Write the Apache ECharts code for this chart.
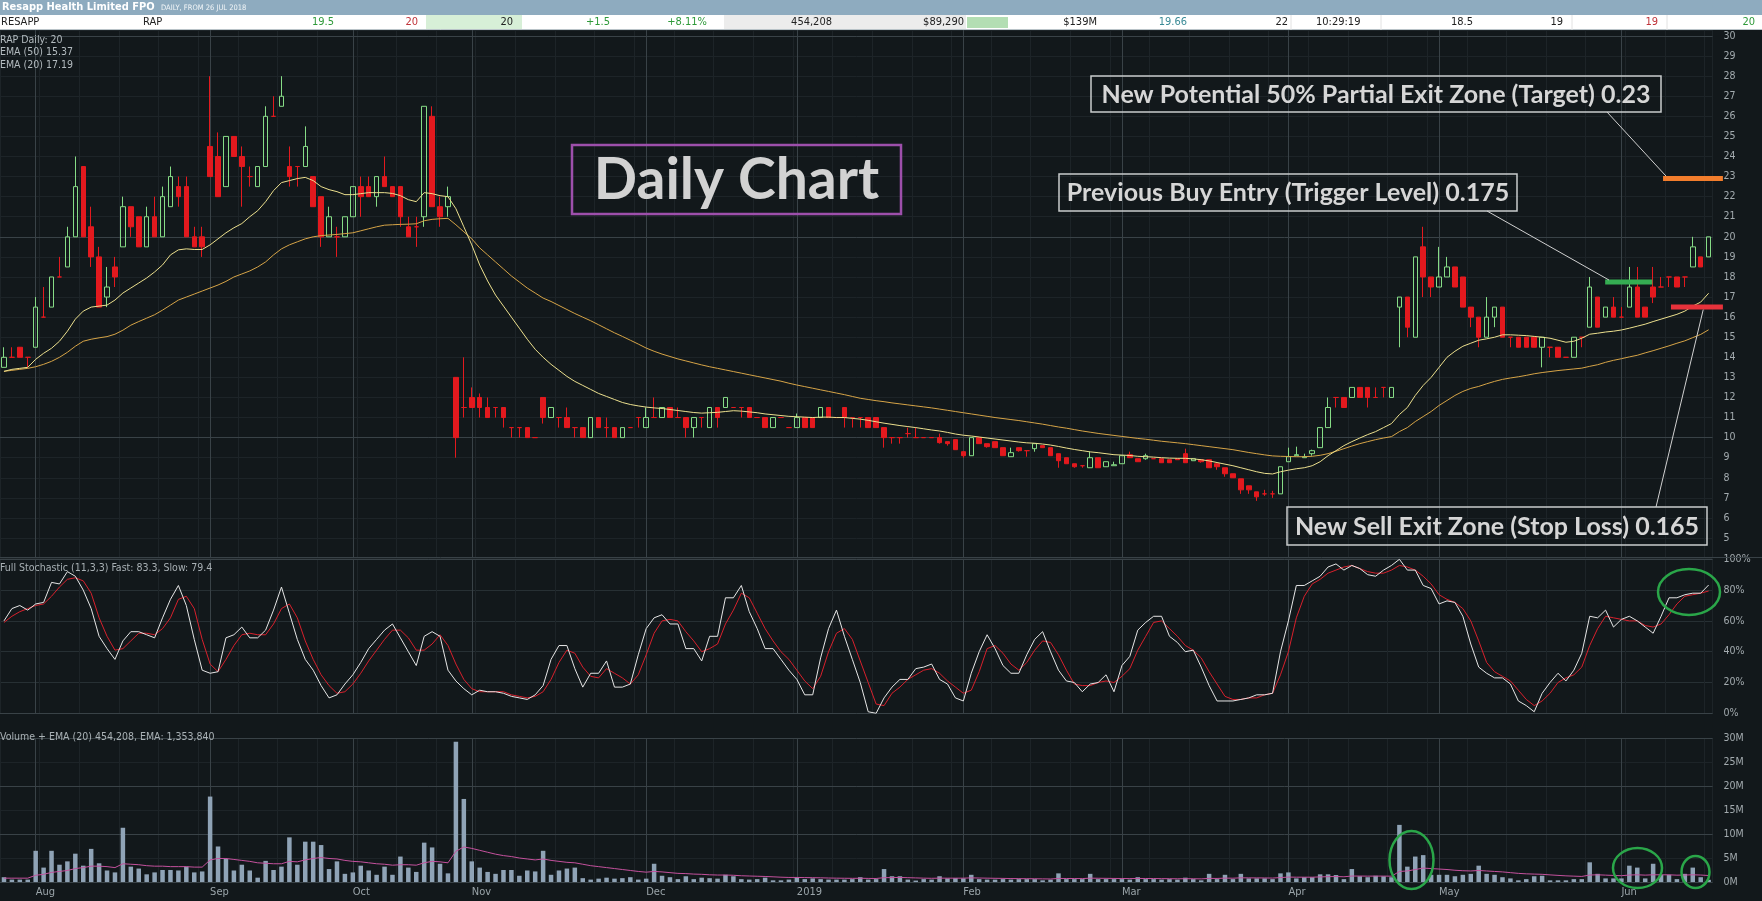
<!DOCTYPE html>
<html><head><meta charset="utf-8">
<script src="https://cdn.jsdelivr.net/npm/echarts@6/dist/echarts.min.js"></script>
<style>html,body{margin:0;padding:0;background:#12181b;overflow:hidden}#c{width:1762px;height:901px}</style>
</head><body><div id="c"></div>
<script>
// ---------- DATA ----------
// candles: [open, high, low, close] in cents
const candles = [
[13.5,14.5,13.5,14],[14,14.5,14,14],[14.5,14.5,14,14],[14,14,13.5,14],[14.5,17,14.5,16.5],[16,17.5,16,16],[16.5,18,16.5,18],[18,19,18,18],[18.5,20.5,18.5,20],[20,24,20,22.5],
[23.5,23.5,20,20],[20.5,21.5,18.5,19],[19,19.5,16.5,16.5],[17,18.5,16.5,17.5],[18.5,19,17.5,18],[19.5,22,19.5,21.5],[21.5,21.5,20,20.5],[21,21,19.5,19.5],[19.5,21.5,19.5,21],[21,22,20,20],
[20,22.5,20,22],[21.5,23.5,21.5,23],[22.5,23,21.5,22],[22.5,23,20,20],[20,20.5,19.5,19.5],[20,20.5,19,19.5],[24.5,28,23,23],[24,25.2,22,22],[22.5,25,22.5,25],[25,25,24,24],
[24,24.5,21.5,23.5],[23,23.5,22.5,23],[22.5,23.5,22.5,23.5],[23.5,26.5,23.5,26],[26,27,26,26],[26.5,28,26.5,27],[23.5,24.5,22.5,23],[23.5,23.5,22.5,23.5],[23.5,25.5,23.5,24.5],[23,23,21.5,21.5],
[22,22,19.5,20],[20,21.5,20,21],[20,20.5,19,20],[20,21,20,21],[21,22.5,21,22.5],[22.5,23,21,22],[22.5,23,22,22],[22,23,21.5,23],[23,24,22.5,22.5],[22.5,22.5,22,22],
[22.5,22.5,20.5,21],[20.5,21,20,20],[20.5,21,19.5,20.5],[21,26.5,20.5,26.5],[26,26.5,21.5,21.5],[21.5,22,20.5,21],[21.5,22.5,21,22],[13,13,9,10],[11.5,14,11,11.5],[12,12.5,11.5,11.5],
[12,12.2,11,11.5],[11.5,12,11,11],[11.5,11.5,11,11.5],[11.5,11.5,10.5,11],[10.5,10.5,10,10.5],[10.5,10.5,10,10.5],[10.5,10.5,10,10],[10,10,10,10],[12,12,10.7,11],[11,11.5,11,11.5],
[11,11,10.5,11],[11,11.5,10.5,10.5],[10.5,10.5,10,10.5],[10.5,10.5,10,10],[10,11,10,11],[11,11,10.5,10.5],[10.5,11,10,10.5],[10.5,10.5,10,10],[10,10.5,10,10.5],[10.5,10.5,10.5,10.5],
[11,11,10.5,11],[10.5,11.5,10.5,11],[11,12,11,11],[11,11.5,11,11.5],[11.5,11.5,11,11],[11,11.5,11,11],[11,11,10,10.5],[10.5,11,10,11],[11,11,10.5,11],[10.5,11.5,10.5,11.5],
[11.5,11.5,10.5,11],[11.5,12,11.5,12],[11.5,11.5,11.5,11.5],[11.5,11.5,11,11.5],[11.5,11.5,11,11],[11,11,11,11],[11,11,10.5,10.5],[10.5,11,10.5,11],[11,11,11,11],[10.5,10.5,10.5,10.5],
[10.5,11.2,10.5,11],[11,11,10.5,10.5],[11,11,10.5,10.5],[11,11.5,11,11.5],[11.5,11.5,11,11],[11,11,11,11],[11.5,11.5,10.5,11],[11,11,10.5,11],[11,11,10.5,11],[11,11,10.5,10.5],
[11,11,10.5,10.5],[10.5,10.5,9.5,10],[10,10,9.7,10],[10,10,9.7,10],[10.2,10.5,10,10.2],[10,10.5,10,10],[10,10,10,10],[10,10,10,10],[10,10.2,9.7,9.75],[9.8,9.8,9.6,9.7],
[9.9,9.9,9.4,9.4],[9.3,9.3,9,9.1],[9.1,10,9.1,10],[10,10,9.7,9.7],[9.7,9.7,9.5,9.55],[9.8,9.8,9.5,9.5],[9.5,9.5,9.1,9.1],[9.05,9.5,9.05,9.25],[9.5,9.5,9.3,9.35],[9.35,9.35,9.05,9.35],
[9.45,9.7,9.3,9.7],[9.6,9.6,9.5,9.5],[9.5,9.5,9.1,9.1],[9.2,9.2,8.5,8.85],[9,9,8.7,8.7],[8.7,8.7,8.5,8.55],[8.6,8.6,8.5,8.6],[8.5,9.3,8.5,9],[9,9,8.5,8.5],[8.55,8.8,8.55,8.8],
[8.6,8.8,8.6,8.65],[8.7,9.1,8.7,9.1],[9.15,9.3,9,9],[8.95,8.95,8.8,8.8],[8.95,9.2,8.9,9.1],[8.95,8.95,8.95,8.95],[8.95,8.95,8.75,8.75],[8.9,8.9,8.75,8.75],[8.95,8.95,8.9,8.9],[9.2,9.45,8.75,8.75],
[8.85,8.95,8.85,8.95],[8.9,8.9,8.75,8.8],[8.9,8.9,8.5,8.5],[8.7,8.7,8.4,8.55],[8.5,8.5,8.05,8.2],[8.2,8.2,8,8],[7.95,7.95,7.2,7.4],[7.6,7.6,7.2,7.4],[7.3,7.3,6.85,7.05],[7.2,7.4,7.1,7.2],
[7.2,7.35,7,7.2],[7.2,8.55,7.2,8.55],[8.8,9.5,8.8,9.05],[9.1,9.55,9.1,9.15],[9,9.2,9,9.05],[9.2,9.4,9.1,9.35],[9.5,10.5,9.5,10.5],[10.5,12,10.5,11.5],[12,12,11.5,12],[12,12,11.5,11.5],
[12,12.5,12,12.5],[12.5,12.5,12,12],[12.5,12.5,11.5,12],[12,12.5,12,12],[12.5,12.5,12,12.5],[12,12.5,12,12.5],[16.5,17,14.5,17],[17,17,15,15.5],[15,19,15,19],[19.5,20.5,17,18],
[18,18,17,17.5],[17.5,19.5,17.5,18],[18,19,18,18.5],[18.5,18.5,17.5,17.5],[18,18,16.5,16.5],[16.5,16.5,15.5,16],[16,16,14.5,15],[15,17,15,16],[16,16.5,15.5,16.5],[16.5,16.5,15,15],
[15,15,14.5,15],[15,15,14.5,14.5],[15,15,14.5,14.5],[15,15,14.5,14.5],[14.5,15,13.5,15],[14.5,14.5,14,14.5],[14.5,14.5,14,14],[14,14,14,14],[14,15,14,15],[15,15,14.5,15],
[15.5,18,15.5,17.5],[17,17,15.5,15.5],[16,16.5,16,16.5],[16.5,17,16,16],[16,16.5,16,16],[16.5,18.5,16.5,17.5],[17.5,18.5,16,16],[16.5,16.5,16,16],[17.5,18.5,16.7,17],[17.5,18,17.5,17.5],
[18,18,17.5,18],[18,18,17.5,17.5],[18,18,17.5,18],[18.5,20,18.5,19.5],[19,19,18.5,18.5],[19,20,19,20]
];
const ema20 = [
13.3,13.4,13.45,13.5,13.9,14.2,14.45,14.8,15.3,15.9,
16.3,16.5,16.55,16.6,16.85,17.2,17.45,17.7,17.95,18.25,
18.6,19.1,19.35,19.4,19.37,19.37,19.6,19.9,20.2,20.45,
20.66,21.0,21.3,21.75,22.3,22.7,22.8,22.9,22.96,22.8,
22.5,22.35,22.25,22.1,22.1,22.15,22.2,22.2,22.2,22.16,
22.05,21.85,21.75,22.2,22.15,22.05,22.0,21.4,20.5,19.6,
18.6,17.8,17.1,16.55,16.0,15.45,14.9,14.4,14.0,13.65,
13.35,13.05,12.8,12.6,12.4,12.2,12.05,11.9,11.75,11.65,
11.58,11.52,11.48,11.45,11.4,11.35,11.3,11.25,11.22,11.24,
11.26,11.3,11.34,11.32,11.28,11.24,11.18,11.14,11.1,11.06,
11.04,11.02,11.0,11.02,11.02,11.0,11.0,10.96,10.92,10.86,
10.79,10.72,10.66,10.6,10.55,10.5,10.44,10.38,10.33,10.26,
10.18,10.12,10.08,10.03,9.98,9.93,9.88,9.83,9.78,9.74,
9.72,9.68,9.63,9.56,9.48,9.41,9.35,9.29,9.25,9.2,
9.15,9.13,9.11,9.07,9.05,9.03,9.0,8.98,8.97,8.97,
8.94,8.9,8.84,8.76,8.68,8.6,8.5,8.4,8.3,8.22,
8.19,8.3,8.38,8.45,8.5,8.6,8.8,9.1,9.35,9.6,
9.8,9.98,10.15,10.3,10.5,10.7,11.15,11.5,12.1,12.6,
13.0,13.5,14.0,14.3,14.55,14.7,14.85,14.92,15.0,15.12,
15.12,15.1,15.08,15.04,15.0,14.95,14.85,14.75,14.8,14.95,
15.15,15.2,15.26,15.3,15.36,15.45,15.55,15.65,15.78,15.9,
16.02,16.14,16.3,16.55,16.75,17.19];
const ema50 = [
13.3,13.35,13.4,13.45,13.53,13.65,13.8,14.0,14.25,14.55,
14.8,14.9,14.97,15.03,15.15,15.35,15.6,15.78,15.95,16.12,
16.35,16.6,16.85,17.0,17.15,17.3,17.45,17.6,17.78,18.0,
18.15,18.3,18.5,18.75,19.1,19.4,19.6,19.75,19.9,20.0,
20.06,20.09,20.12,20.16,20.2,20.3,20.4,20.5,20.58,20.6,
20.62,20.63,20.65,20.8,20.87,20.9,20.92,20.6,20.25,19.9,
19.45,19.1,18.75,18.4,18.05,17.75,17.45,17.2,16.95,16.78,
16.58,16.38,16.18,16.0,15.82,15.62,15.42,15.22,15.04,14.85,
14.66,14.46,14.3,14.16,14.04,13.92,13.82,13.72,13.62,13.53,
13.45,13.37,13.29,13.21,13.13,13.05,12.97,12.89,12.81,12.71,
12.62,12.54,12.46,12.38,12.3,12.22,12.14,12.05,11.96,11.9,
11.84,11.79,11.73,11.68,11.63,11.58,11.53,11.48,11.42,11.36,
11.3,11.24,11.18,11.12,11.06,11.0,10.95,10.9,10.85,10.79,
10.73,10.67,10.6,10.53,10.47,10.4,10.33,10.27,10.21,10.16,
10.11,10.06,10.01,9.96,9.92,9.87,9.82,9.78,9.74,9.7,
9.65,9.6,9.55,9.5,9.45,9.4,9.33,9.26,9.2,9.14,
9.09,9.07,9.06,9.05,9.05,9.07,9.12,9.2,9.32,9.45,
9.58,9.7,9.8,9.9,9.98,10.05,10.3,10.5,10.8,11.05,
11.3,11.6,11.85,12.1,12.3,12.45,12.55,12.68,12.8,12.9,
12.97,13.03,13.1,13.18,13.24,13.29,13.34,13.38,13.42,13.46,
13.55,13.63,13.75,13.85,13.93,14.02,14.1,14.22,14.33,14.45,
14.57,14.7,14.82,14.98,15.14,15.37];
const stochFast = [
60,68,70,67,71,72,85,84,92,89,
80,68,50,42,35,47,53,53,51,49,
62,74,83,70,48,28,26,27,49,51,
56,49,49,54,67,82,65,48,35,28,
18,10,12,19,25,33,42,48,54,58,
49,40,31,50,53,50,28,21,16,12,
15,14,14,13,11,10,9,12,18,35,
44,44,29,17,26,26,34,17,17,19,
38,55,62,64,58,58,42,42,34,50,
50,75,75,83,66,55,42,42,35,28,
22,12,12,36,55,67,50,35,20,1,
0,10,17,22,22,29,30,32,22,19,
10,8,26,40,51,42,31,26,26,38,
48,53,40,28,21,20,14,19,20,25,
14,31,37,54,59,63,63,50,46,40,
41,30,18,8,8,8,9,10,12,12,
13,40,60,83,83,86,89,95,97,93,
96,94,90,89,93,96,100,93,93,83,
81,71,73,72,63,45,30,26,23,23,
19,8,5,1,13,20,26,21,28,39,
63,62,67,56,61,63,60,56,52,63,
75,75,77,78,78,83.3];
const stochSlow = [
59,63,66,68,70,71,76,82,87,88,
86,78,62,50,41,42,47,52,52,51,
55,62,74,76,68,48,32,27,35,44,
51,52,51,51,58,68,71,62,47,35,
25,18,13,14,19,26,34,41,48,54,
54,49,41,41,45,51,44,32,22,16,
14,14,14,14,12,11,10,11,14,22,
33,41,39,30,24,23,29,26,23,19,
25,38,52,60,61,60,53,47,40,42,
45,58,67,78,75,65,55,47,40,35,
28,21,16,24,40,52,55,48,34,20,
6,5,13,17,22,25,28,29,26,21,
17,13,15,27,42,44,39,32,28,33,
41,47,46,38,28,19,18,18,20,21,
20,24,29,41,50,59,60,55,50,44,
41,36,27,19,11,9,9,10,10,12,
13,25,40,62,76,84,87,91,93,95,
96,94,92,91,91,93,96,95,93,89,
84,77,74,72,68,60,47,33,27,24,
21,15,9,5,8,13,20,23,25,30,
44,55,63,62,61,60,60,57,56,58,
64,71,76,77,78,79.4];
// volume in millions of shares
const volumeM = [
1.0,0.5,0.5,0.5,6.5,3.0,6.5,3.6,4.3,5.9,
3.4,6.9,3.9,2.4,2.0,11.3,3.2,2.8,1.6,2.0,
2.5,2.5,2.4,3.2,2.0,2.2,17.8,7.4,4.8,2.4,
3.6,2.4,0.9,4.4,2.5,3.2,9.3,3.6,8.4,8.4,
7.7,2.7,4.3,1.7,2.0,3.4,2.4,1.5,3.2,1.5,
5.3,3.0,2.1,8.2,7.2,3.8,1.8,29.2,17.3,4.3,
3.0,2.1,1.7,2.5,2.5,1.3,2.4,2.2,6.5,1.5,
2.4,2.8,3.0,0.8,0.5,0.7,0.9,0.7,0.8,1.0,
0.5,0.7,3.8,1.3,1.0,0.6,1.2,0.6,0.9,0.8,
0.7,1.5,1.2,0.6,0.5,0.6,0.9,0.35,0.35,0.5,
1.0,0.6,0.75,0.6,0.5,0.5,0.5,0.6,1.0,0.5,
0.6,2.7,1.2,1.2,0.5,0.3,0.6,0.5,1.2,0.75,
0.8,0.75,1.5,0.6,0.5,0.5,0.6,0.5,0.6,0.6,
0.6,0.35,0.5,1.8,0.6,0.6,0.6,1.7,0.6,0.6,
0.6,0.6,0.5,1.0,0.6,0.6,0.5,0.6,0.5,0.9,
0.6,0.35,1.7,0.6,1.5,0.6,1.7,0.75,0.75,0.75,
0.6,1.8,2.0,0.75,1.0,1.0,1.6,1.6,1.45,0.6,
2.7,1.2,1.0,1.3,1.2,1.0,11.9,3.2,5.3,5.6,
1.5,1.5,1.5,1.2,1.5,1.7,3.4,1.7,1.5,1.0,
0.75,0.35,0.6,1.2,1.3,0.35,0.35,0.35,0.6,0.6,
4.1,1.7,0.75,0.75,0.75,3.4,3.0,0.75,3.8,1.5,
1.5,0.6,1.7,3.0,1.0,0.454];
const volumeEma = [
0.8,0.8,0.8,0.8,1.4,1.6,2.0,2.2,2.4,2.8,
3.0,3.3,3.3,3.2,3.0,3.8,3.7,3.6,3.4,3.3,
3.3,3.2,3.2,3.2,3.1,3.1,4.6,4.9,4.9,4.7,
4.5,4.3,4.0,3.9,3.8,3.8,4.3,4.2,4.6,4.9,
5.1,4.9,4.8,4.5,4.3,4.2,4.0,3.8,3.7,3.5,
3.6,3.6,3.5,4.0,4.3,4.2,4.0,6.4,7.3,7.0,
6.6,6.2,5.8,5.5,5.3,5.0,4.8,4.6,4.8,4.5,
4.3,4.1,4.0,3.7,3.4,3.2,3.0,2.8,2.6,2.4,
2.2,2.05,2.2,2.1,1.95,1.8,1.75,1.65,1.6,1.5,
1.45,1.45,1.4,1.3,1.25,1.2,1.15,1.08,1.0,0.95,
0.95,0.92,0.9,0.87,0.83,0.8,0.78,0.76,0.78,0.75,
0.73,0.9,0.92,0.95,0.9,0.85,0.8,0.77,0.8,0.8,
0.8,0.8,0.86,0.83,0.8,0.77,0.75,0.72,0.7,0.69,
0.68,0.65,0.63,0.74,0.73,0.72,0.71,0.8,0.78,0.76,
0.74,0.73,0.71,0.74,0.73,0.72,0.7,0.69,0.67,0.69,
0.68,0.65,0.75,0.74,0.81,0.79,0.87,0.86,0.85,0.84,
0.82,0.92,1.02,1.0,1.0,1.0,1.06,1.11,1.14,1.09,
1.24,1.24,1.22,1.23,1.23,1.21,2.2,2.3,2.6,2.9,
2.8,2.7,2.6,2.45,2.35,2.3,2.4,2.3,2.2,2.1,
1.95,1.8,1.7,1.65,1.6,1.48,1.38,1.28,1.22,1.16,
1.45,1.5,1.43,1.37,1.31,1.45,1.5,1.43,1.5,1.5,
1.5,1.42,1.45,1.5,1.45,1.35];
// month tick labels: [candle index, label]
const monthTicks = [[4,'Aug'],[26,'Sep'],[44,'Oct'],[59,'Nov'],[81,'Dec'],[100,'2019'],[121,'Feb'],[141,'Mar'],[162,'Apr'],[181,'May'],[204,'Jun']];
const priceMajor = [10, 20, 30];
const volumeMajor = [10, 20, 30];
// trade levels drawn on the price panel (price in cents, span in candle positions)
const levels = [
  {key:'target', price:22.9, from:209.25, to:216.8},
  {key:'entry',  price:17.75, from:201.95, to:207.9},
  {key:'stop',   price:16.5, from:210.25, to:216.8}
];
const quoteTexts = ['RESAPP','RAP','19.5','20','20','+1.5','+8.11%','454,208','$89,290','$139M','19.66','22','10:29:19','18.5','19','19','20'];
const infoLines = ['RAP Daily: 20','EMA (50) 15.37','EMA (20) 17.19'];

// ---------- STYLE / LAYOUT ----------
const BG = '#12181b';
const FAINT = '#1d2428', STRONG = '#394247';
const UP = '#86dc86', DOWN = '#e3191e';
const levelColors = {target:'#f27d2c', entry:'#35ad52', stop:'#e7323b'};
const SMALL = '"Liberation Sans Narrow","DejaVu Sans Condensed","Roboto Condensed",Roboto,sans-serif';
const N = candles.length;
const GRID_LEFT = -2.4, GRID_W = 1715;
const band = GRID_W / N;
const cats = candles.map((_, i) => String(i));
const monthMap = {}; monthTicks.forEach(([i, l]) => monthMap[i] = l);

const chart = echarts.init(document.getElementById('c'), null, {width:1762, height:901});

const vLines = {
  silent:true, symbol:['none','none'], label:{show:false}, z:1, animation:false,
  emphasis:{disabled:true},
  lineStyle:{color:STRONG, width:1, type:'solid'},
  data: monthTicks.map(([i]) => ({xAxis: String(i)}))
};
function xAx(g) {
  return {
    type:'category', gridIndex:g, data:cats, boundaryGap:true,
    axisLine:{show:false}, axisTick:{show:false},
    axisLabel: g === 2 ? {
      show:true, interval:(idx) => monthMap[idx] !== undefined,
      formatter:(v, idx) => monthMap[idx] || '', align:'left', margin:5,
      color:'#9aa4a9', fontSize:11, fontFamily:SMALL
    } : {show:false},
    splitLine:{show:true, interval:4, lineStyle:{color:FAINT, width:1}}
  };
}
const yLabel = {color:'#a3abaf', fontSize:10.5, fontFamily:SMALL, margin:11};

chart.setOption({
  backgroundColor: BG,
  animation:false,
  grid:[
    {left:GRID_LEFT, width:GRID_W, top:30, height:528.1},
    {left:GRID_LEFT, width:GRID_W, top:559.3, height:154},
    {left:GRID_LEFT, width:GRID_W, top:738, height:144}
  ],
  xAxis:[xAx(0), xAx(1), xAx(2)],
  yAxis:[
    {type:'value', gridIndex:0, position:'right', min:4, max:30.3, interval:1,
     axisLine:{show:false}, axisTick:{show:false},
     axisLabel:{...yLabel, formatter:(v) => (Number.isInteger(v) && v >= 5 && v <= 30) ? String(v) : ''},
     splitLine:{lineStyle:{color:FAINT, width:1}}},
    {type:'value', gridIndex:1, position:'right', min:0, max:100, interval:20,
     axisLine:{show:false}, axisTick:{show:false},
     axisLabel:{...yLabel, formatter:'{value}%'},
     splitLine:{lineStyle:{color:'#273034', width:1}}},
    {type:'value', gridIndex:2, position:'right', min:0, max:30, interval:5,
     axisLine:{show:false}, axisTick:{show:false},
     axisLabel:{...yLabel, formatter:(v) => v + 'M'},
     splitLine:{lineStyle:{color:FAINT, width:1}}}
  ],
  series:[
    {type:'candlestick', xAxisIndex:0, yAxisIndex:0, barWidth:5,
     data: candles.map(([o,h,l,c]) => [o, c, l, h]),
     itemStyle:{color:'rgba(0,0,0,0)', color0:DOWN, borderColor:UP, borderColor0:DOWN, borderColorDoji:DOWN, borderWidth:1},
     markLine: {...vLines, data: vLines.data.concat(priceMajor.map(v => ({yAxis:v})))}},
    {type:'line', xAxisIndex:0, yAxisIndex:0, data:ema50, symbol:'none', silent:true,
     lineStyle:{color:'#d6a447', width:1}},
    {type:'line', xAxisIndex:0, yAxisIndex:0, data:ema20, symbol:'none', silent:true,
     lineStyle:{color:'#ece08e', width:1}},
    {type:'custom', xAxisIndex:0, yAxisIndex:0, clip:false, silent:true, z:5,
     data: levels.map(l => [Math.floor(l.from), l.price]),
     renderItem:(params, api) => {
       const lv = levels[params.dataIndex];
       const base = Math.floor(lv.from);
       const p = api.coord([base, lv.price]);
       const bw = api.size([1, 0])[0];
       return {type:'rect', shape:{x:p[0] + (lv.from - base) * bw, y:p[1] - 2.5, width:(lv.to - lv.from) * bw, height:5},
               style:{fill:levelColors[lv.key]}};
     }},
    {type:'line', xAxisIndex:1, yAxisIndex:1, data:stochSlow, symbol:'none', silent:true,
     lineStyle:{color:'#d8202c', width:1}},
    {type:'line', xAxisIndex:1, yAxisIndex:1, data:stochFast, symbol:'none', silent:true,
     lineStyle:{color:'#e6e6e6', width:1},
     markLine: {...vLines, data: vLines.data.concat([{yAxis:0},{yAxis:100}])}},
    {type:'bar', xAxisIndex:2, yAxisIndex:2, data:volumeM, barWidth:4.5, silent:true,
     itemStyle:{color:'#8fa3b6'},
     markLine: {...vLines, data: vLines.data.concat(volumeMajor.map(v => ({yAxis:v})).concat([{yAxis:0}]))}},
    {type:'line', xAxisIndex:2, yAxisIndex:2, data:volumeEma, symbol:'none', silent:true,
     lineStyle:{color:'#c4519d', width:1}}
  ]
});

// ---------- annotations ----------
function T(x, y, text, font, fill, align) {
  return {type:'text', x, y, z:100, silent:true,
    style:{text, font, fill, align:align || 'left', verticalAlign:'middle', textAlign:align || 'left', textVerticalAlign:'middle'}};
}
function R(x, y, w, h, fill, stroke, lw) {
  return {type:'rect', z:90, silent:true, shape:{x, y, width:w, height:h},
    style:{fill:fill || 'rgba(0,0,0,0)', stroke:stroke || null, lineWidth:lw || 0}};
}
function L(x1, y1, x2, y2, stroke, lw, z) {
  return {type:'line', z:z || 95, silent:true, shape:{x1, y1, x2, y2}, style:{stroke, lineWidth:lw || 1}};
}
function E(cx, cy, rx, ry) {
  return {type:'ellipse', z:95, silent:true, shape:{cx, cy, rx, ry}, style:{fill:'rgba(0,0,0,0)', stroke:'#2aa649', lineWidth:2.5}};
}
const toPx = (i, v) => chart.convertToPixel({xAxisIndex:0, yAxisIndex:0}, [i, v]);
function levelPoint(lv, frac, dy) {
  const base = Math.floor(lv.from);
  const p = toPx(base, lv.price);
  return [p[0] + (lv.from - base + frac * (lv.to - lv.from)) * band, p[1] + dy];
}
const lvT = levels[0], lvE = levels[1], lvS = levels[2];
const pT = levelPoint(lvT, 0.05, -2.5), pE = levelPoint(lvE, 0.08, -2), pS = levelPoint(lvS, 0.62, 2.5);

const qFont = '11px ' + SMALL;
const qPos = [[1,'left','#222'],[143,'left','#222'],[334,'right','#2f9a3a'],[418,'right','#c0343a'],[513,'right','#222'],
  [610,'right','#2f9a3a'],[707,'right','#2f9a3a'],[832,'right','#222'],[964,'right','#222'],[1097,'right','#222'],
  [1187,'right','#3a8a96'],[1288,'right','#222'],[1316,'left','#222'],[1473,'right','#222'],[1563,'right','#222'],
  [1658,'right','#c0343a'],[1755,'right','#2f9a3a']];
const ANN = 'bold 25px Lato, "Open Sans", sans-serif';
const annColor = '#d6d6d6', boxColor = '#c9cccd';

const g = [
  R(0, 0, 1762, 15, '#8eabbf'),
  R(0, 15, 1762, 15, '#ffffff'),
  R(426, 15, 96, 15, '#d7efd7'),
  R(724, 15, 242, 15, '#ececec'),
  R(967, 17, 41, 11, '#b3deb3'),
  L(0, 29.5, 1762, 29.5, '#b9c3c8', 1),
  L(1291, 15, 1291, 30, '#e2e2e2', 1), L(1381, 15, 1381, 30, '#e2e2e2', 1),
  L(1572, 15, 1572, 30, '#e2e2e2', 1), L(1667, 15, 1667, 30, '#e2e2e2', 1),
  T(2, 7.5, 'Resapp Health Limited FPO', 'bold 11px ' + SMALL, '#ffffff'),
  T(161, 8, 'DAILY, FROM 26 JUL 2018', '7.5px ' + SMALL, '#f2f6f8'),
  L(0, 557.5, 1762, 557.5, STRONG, 1, 50),
  T(0, 568, 'Full Stochastic (11,3,3) Fast: 83.3, Slow: 79.4', '10.5px ' + SMALL, '#a9b1b5'),
  T(0, 737, 'Volume + EMA (20) 454,208, EMA: 1,353,840', '10.5px ' + SMALL, '#a9b1b5'),
  // Daily chart title box
  R(572, 145, 329, 69, null, '#9d4fab', 2.5),
  T(736.5, 181, 'Daily Chart', 'bold 57px Lato, "Open Sans", sans-serif', '#d2d2d2', 'center'),
  // level annotation boxes
  R(1091, 76, 570, 36, null, boxColor, 1.5),
  T(1376, 94.5, 'New Potential 50% Partial Exit Zone (Target) 0.23', ANN, annColor, 'center'),
  R(1059, 174, 458, 37, null, boxColor, 1.5),
  T(1288, 193, 'Previous Buy Entry (Trigger Level) 0.175', ANN, annColor, 'center'),
  R(1287, 507, 420, 38, null, boxColor, 1.5),
  T(1497, 526.5, 'New Sell Exit Zone (Stop Loss) 0.165', ANN, annColor, 'center'),
  L(1607, 112, pT[0], pT[1], '#d0d0d0', 1),
  L(1487, 211, pE[0], pE[1], '#d0d0d0', 1),
  L(1656, 507, pS[0], pS[1], '#d0d0d0', 1),
  // hand-drawn circles
  E(1689, 592, 31, 23),
  E(1411.5, 860, 22, 29),
  E(1637.5, 868, 24.5, 20),
  E(1695.5, 872, 14, 16)
];
quoteTexts.forEach((t, i) => g.push(T(qPos[i][0], 22.5, t, qFont, qPos[i][2], qPos[i][1])));
infoLines.forEach((t, i) => g.push(T(0, 40 + i * 12.7, t, '10.5px ' + SMALL, '#b3bbbf')));
chart.setOption({graphic:{elements:g}});
</script></body></html>
